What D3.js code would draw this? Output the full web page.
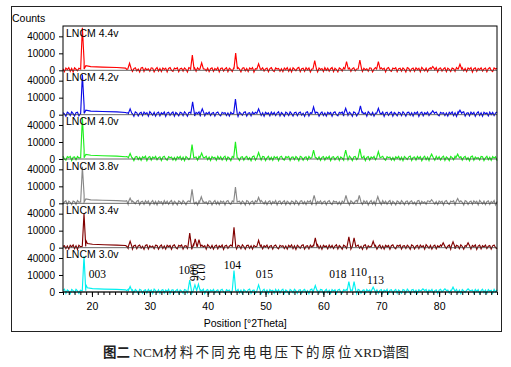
<!DOCTYPE html>
<html>
<head>
<meta charset="utf-8">
<script src="https://cdn.jsdelivr.net/npm/d3@7"></script>
<style>
  body { margin: 0; background: #fff; }
  text { font-family: "Liberation Sans", Arial, sans-serif; }
</style>
</head>
<body>
<div id="wrapper"></div>
<script>
// panels, top to bottom
const panelNames = ["LNCM 4.4v", "LNCM 4.2v", "LNCM 4.0v", "LNCM 3.8v", "LNCM 3.4v", "LNCM 3.0v"];
const panelColors = ["#ff0000", "#0a0ae6", "#1eee1e", "#888888", "#800000", "#00f0f0"];
const xTicks = [20, 30, 40, 50, 60, 70, 80];
const yTicks = [0, 10000, 40000];

// [2theta, counts] of the peaks
const peaks44 = [[18.35,63000],[26.5,1750],[37.35,8000],[38.96,1900],[44.84,10200],[48.8,1450],[58.5,3300],[64.0,2600],[66.3,3700],[69.5,2600],[78.9,530],[83.6,1300]];
const peaks42 = [[18.35,56000],[26.6,1200],[37.4,5800],[39.07,1200],[44.8,8300],[48.8,1200],[58.3,2100],[63.85,1450],[66.4,2650],[69.5,1450],[78.9,520],[83.6,720]];
const peaks40 = [[18.35,60000],[26.6,1050],[37.3,7300],[38.96,1200],[44.8,10200],[48.8,1450],[58.3,2800],[63.85,2800],[66.3,3500],[69.5,1900],[78.7,820],[83.2,820]];
const peaks38 = [[18.35,46000],[26.6,920],[37.3,6700],[38.9,1450],[44.8,9100],[48.8,1200],[58.4,2250],[63.9,2250],[66.2,2250],[69.4,1600],[78.7,450],[83.2,820]];
const peaks34 = [[18.63,40000],[26.6,1450],[36.9,7300],[37.85,2650],[38.5,2250],[44.55,14400],[48.8,1900],[58.6,3300],[64.4,4000],[65.3,3300],[68.6,1450],[80.7,820],[82.4,1200],[85,820]];
const peaks30 = [[18.63,44700],[26.6,1050],[36.9,4900],[37.8,1750],[38.4,2100],[44.55,16000],[48.8,1750],[58.6,1450],[64.4,3700],[65.3,3700],[68.6,820],[77.2,360],[81,360],[82.4,820],[85,360]];

// decaying background on the high-angle side of 003
const tail44 = [[18.65,2600],[18.95,750],[19.8,480],[21.8,360],[24.3,280],[25.8,180]];
const tail42 = [[18.65,2400],[18.95,700],[19.8,450],[21.8,340],[24.3,260],[25.8,170]];
const tail40 = [[18.65,2600],[18.95,750],[19.8,480],[21.8,360],[24.3,280],[25.8,180]];
const tail38 = [[18.65,2200],[18.95,650],[19.8,430],[21.8,330],[24.3,250],[25.8,170]];
const tail34 = [[18.93,2000],[19.2,600],[20.1,400],[22.1,300],[24.3,230],[25.8,160]];
const tail30 = [[18.93,2000],[19.2,600],[20.1,400],[22.1,300],[24.3,230],[25.8,160]];

// background scatter (counts)
const noise = [
  90,-60,180,20,250,-30,120,-90,210,40,
  -10,160,300,-70,80,140,-40,230,10,190,
  -100,60,270,-20,130,-80,200,30,110,-50,
  240,0,170,-30,90,280,-60,150,20,-90,
  210,70,-20,260,40,-70,120,190,-40,100,
  230,-10,60,-100,180,290,-50,140,10,80,
  -30,220,160,-80,50,250,-20,110,-60,200,
  30,170,-90,130,270,0,-40,190,70,240,
  -70,100,150,-20,210,40,-100,260,120,-50,
  80,180,-30,230,20,140,-80,300,60,-10,
  170,-60,90,220,-40,130,10,250,-90,110,
  190,-20,70,240,-70,160,30,-50,200,100,
  -30,280,50,-80,150,220,-10,120,-60,180,
  40,260,-100,90,210,-40,140,20,230,-20,
  70,170,-70,110,250,0,-50,190,60,130,
  -30
];

// hkl labels on the 3.0v trace: [text, 2theta, counts, rotated]
const hkl = [
  ["003", 20.96, 6400, false],
  ["101", 36.43, 11800, false],
  ["006", 36.95, 27500, true],
  ["012", 38.24, 27500, true],
  ["104", 44.29, 18800, false],
  ["015", 49.82, 6400, false],
  ["018", 62.52, 6400, false],
  ["110", 66.06, 8400, false],
  ["113", 69.0, 2100, false]
];

const allPeaks = [peaks44, peaks42, peaks40, peaks38, peaks34, peaks30];
const allTails = [tail44, tail42, tail40, tail38, tail34, tail30];

var dimension = {
    width: 511,
    height: 367,
    margin: { top: 26, right: 14, bottom: 75, left: 63 }
}
dimension.boundedWidth = dimension.width - dimension.margin.left - dimension.margin.right;
dimension.boundedHeight = dimension.height - dimension.margin.top - dimension.margin.bottom;
const panelH = dimension.boundedHeight / panelNames.length;

const svg = d3.select("#wrapper")
    .append("svg")
    .attr("width", dimension.width)
    .attr("height", dimension.height);

// outer frame
svg.append("rect")
    .attr("x", 11.5).attr("y", 6.5)
    .attr("width", 490).attr("height", 325)
    .attr("fill", "none").attr("stroke", "#222");

svg.append("text")
    .attr("x", 12).attr("y", 22)
    .style("font-size", "10.5px")
    .text("Counts");

const x = d3.scaleLinear()
    .domain([15, 90])
    .range([dimension.margin.left, dimension.margin.left + dimension.boundedWidth]);

// background every 0.25 deg, cycling through the noise list
function trace(peaks, tail, offset) {
    const pts = [];
    const tStart = tail[0][0], tEnd = tail[tail.length - 1][0];
    for (let j = 0; j <= 300; j++) {
        const t = 15 + j * 0.25;
        if (t > tStart - 0.7 && t < tEnd) continue;
        if (peaks.some(p => Math.abs(p[0] - t) < 0.3)) continue;
        pts.push([t, noise[(j + offset) % noise.length]]);
    }
    peaks.forEach(p => {
        pts.push([p[0] - 0.3, 60], [p[0], p[1]], [p[0] + 0.3, 60]);
    });
    tail.forEach(p => pts.push(p));
    return pts
        .filter(p => !(p[0] > tStart - 0.35 && p[0] < tStart && p[1] === 60))
        .sort((a, b) => a[0] - b[0]);
}

panelNames.forEach((name, k) => {
    const top = dimension.margin.top + k * panelH;
    const y = d3.scaleSqrt()
        .domain([0, 68000])
        .range([top + panelH, top]);

    const g = svg.append("g");

    const line = d3.line()
        .x(d => x(d[0]))
        .y(d => y(d[1]));

    g.append("path")
        .datum(trace(allPeaks[k], allTails[k], k * 37))
        .attr("fill", "none")
        .attr("stroke", panelColors[k])
        .attr("stroke-width", 1.15)
        .attr("d", line);

    // zero line
    g.append("line")
        .attr("x1", x(15)).attr("x2", x(90))
        .attr("y1", y(0)).attr("y2", y(0))
        .attr("stroke", "#444").attr("stroke-width", 0.8);

    const ax = g.append("g")
        .attr("transform", `translate(${dimension.margin.left},0)`)
        .call(d3.axisLeft(y).tickValues(yTicks).tickSize(4).tickFormat(d3.format("d")));
    ax.select(".domain").remove();
    ax.selectAll("text")
        .attr("x", -8)
        .style("font-family", "'Liberation Sans', Arial, sans-serif")
        .style("font-size", "10px")
        .attr("fill", "#000");

    g.append("text")
        .attr("x", dimension.margin.left + 3)
        .attr("y", top + 10.5)
        .style("font-size", "10.5px")
        .text(name);

    if (k === panelNames.length - 1) {
        g.selectAll(".hkl")
            .data(hkl)
            .enter()
            .append("text")
            .attr("class", "hkl")
            .attr("transform", d => `translate(${x(d[1])},${y(d[2])})` + (d[3] ? " rotate(90)" : ""))
            .attr("text-anchor", d => d[3] ? "start" : "middle")
            .style("font-family", "'Liberation Serif', 'Times New Roman', serif")
            .style("font-size", "11.5px")
            .text(d => d[0]);
    }
});

// plot frame
svg.append("rect")
    .attr("x", dimension.margin.left).attr("y", dimension.margin.top)
    .attr("width", dimension.boundedWidth).attr("height", dimension.boundedHeight)
    .attr("fill", "none").attr("stroke", "#000").attr("stroke-width", 1);

const bottom = dimension.margin.top + dimension.boundedHeight;

const minor = svg.append("g")
    .attr("transform", `translate(0,${bottom})`)
    .call(d3.axisBottom(x).ticks(75).tickSize(3).tickFormat(""));
minor.select(".domain").remove();

const xa = svg.append("g")
    .attr("transform", `translate(0,${bottom})`)
    .call(d3.axisBottom(x).tickValues(xTicks).tickSize(5).tickFormat(d3.format("d")));
xa.select(".domain").remove();
xa.selectAll("text")
    .attr("y", 11)
    .style("font-family", "'Liberation Sans', Arial, sans-serif")
    .style("font-size", "10.5px")
    .attr("fill", "#000");

svg.append("text")
    .attr("x", x(46.5)).attr("y", 327)
    .attr("text-anchor", "middle")
    .style("font-size", "10.5px")
    .text("Position [°2Theta]");

// caption
const cap = svg.append("text")
    .attr("x", 103).attr("y", 357)
    .style("font-size", "13.5px")
    .attr("fill", "#222");
cap.append("tspan")
    .style("font-family", "'Noto Sans CJK SC', sans-serif")
    .style("font-weight", "bold")
    .text("图二 ");
cap.append("tspan")
    .style("font-family", "'Liberation Serif', serif")
    .text("NCM");
cap.append("tspan")
    .style("font-family", "'Noto Sans CJK SC', sans-serif")
    .style("letter-spacing", "2.3px")
    .text("材料不同充电电压下的原位");
cap.append("tspan")
    .style("font-family", "'Liberation Serif', serif")
    .text("XRD");
cap.append("tspan")
    .style("font-family", "'Noto Sans CJK SC', sans-serif")
    .text("谱图");
</script>
</body>
</html>
